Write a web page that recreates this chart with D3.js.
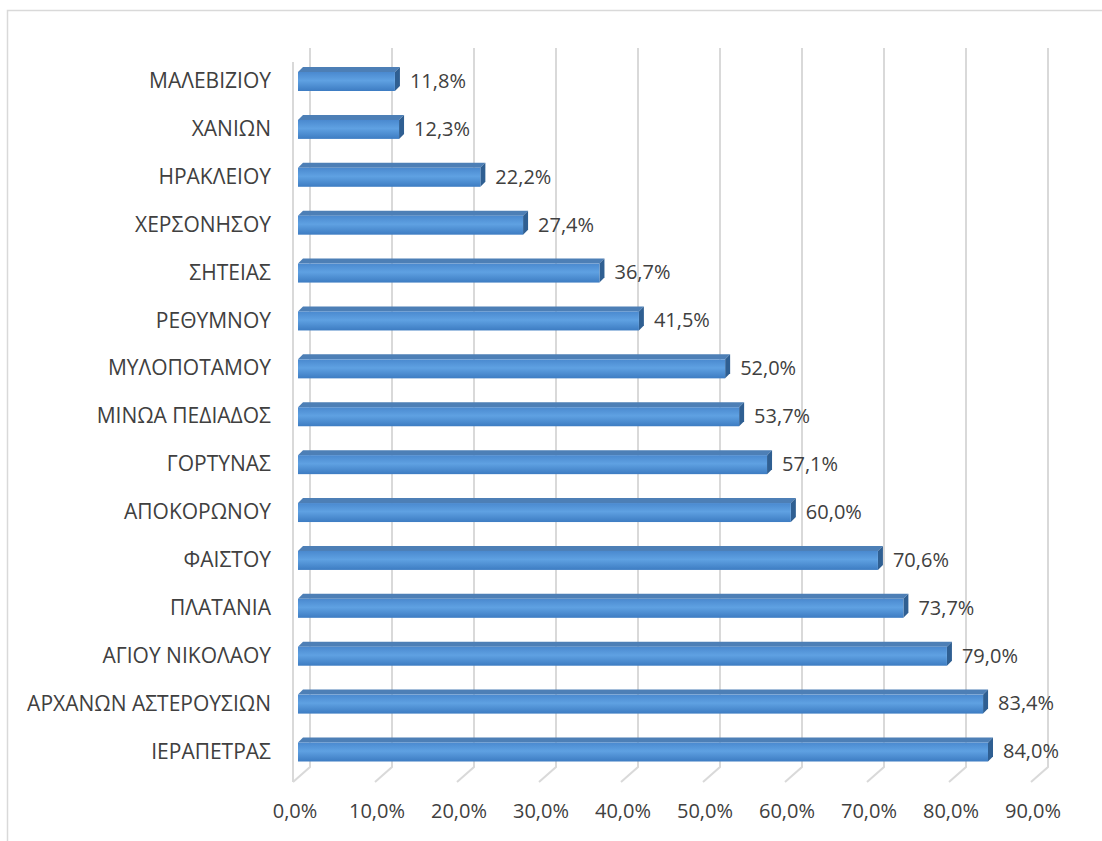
<!DOCTYPE html>
<html>
<head>
<meta charset="utf-8">
<script src="https://cdn.jsdelivr.net/npm/d3@7"></script>
<style>
  body { margin: 0; background: #fff; }
  svg text { font-family: "Open Sans", "Noto Sans", sans-serif; fill: #404040; }
</style>
</head>
<body>
<div id="chart"></div>
<script>
// municipalities, top to bottom
const categories = [
  "ΜΑΛΕΒΙΖΙΟΥ", "ΧΑΝΙΩΝ", "ΗΡΑΚΛΕΙΟΥ", "ΧΕΡΣΟΝΗΣΟΥ", "ΣΗΤΕΙΑΣ",
  "ΡΕΘΥΜΝΟΥ", "ΜΥΛΟΠΟΤΑΜΟΥ", "ΜΙΝΩΑ ΠΕΔΙΑΔΟΣ", "ΓΟΡΤΥΝΑΣ", "ΑΠΟΚΟΡΩΝΟΥ",
  "ΦΑΙΣΤΟΥ", "ΠΛΑΤΑΝΙΑ", "ΑΓΙΟΥ ΝΙΚΟΛΑΟΥ", "ΑΡΧΑΝΩΝ ΑΣΤΕΡΟΥΣΙΩΝ", "ΙΕΡΑΠΕΤΡΑΣ"
];
const values = [11.8, 12.3, 22.2, 27.4, 36.7, 41.5, 52.0, 53.7, 57.1, 60.0, 70.6, 73.7, 79.0, 83.4, 84.0];
const ticks = [0, 10, 20, 30, 40, 50, 60, 70, 80, 90];

const W = 1102, H = 841;
const depth = 17, rise = 15; // 3D wall offset
const fmt = v => v.toFixed(1).replace(".", ",") + "%";

const svg = d3.select("#chart").append("svg")
  .attr("width", W).attr("height", H);

// chart frame
svg.append("rect")
  .attr("x", 7.5).attr("y", 10.5)
  .attr("width", 1200).attr("height", 900)
  .attr("fill", "none").attr("stroke", "#d9d9d9").attr("stroke-width", 1.5);

// front scale (floor labels) and bar scale
const xFront = d3.scaleLinear().domain([0, 90]).range([293, 1031]);
const xBar = d3.scaleLinear().domain([0, 84]).range([298, 988]);
const y = d3.scalePoint().domain(categories).range([81.5, 752]);

const wallTop = 48, wallBottom = 767;

// gridlines on back wall + floor diagonals
const grid = svg.append("g").attr("stroke", "#d9d9d9").attr("stroke-width", 2).attr("fill", "none");
grid.selectAll("path.g").data(ticks).join("path")
  .attr("d", t => {
    const xb = xFront(t) + depth;
    return `M${xb},${wallTop}V${wallBottom}L${xFront(t)},${wallBottom + rise}`;
  });
// left wall front edge
grid.append("line")
  .attr("x1", xFront(0)).attr("x2", xFront(0))
  .attr("y1", wallTop + 14).attr("y2", wallBottom + rise);

// gradient for bar front
const defs = svg.append("defs");
const grad = defs.append("linearGradient").attr("id", "barGrad")
  .attr("x1", 0).attr("x2", 0).attr("y1", 0).attr("y2", 1);
grad.append("stop").attr("offset", "0%").attr("stop-color", "#4a89cf");
grad.append("stop").attr("offset", "45%").attr("stop-color", "#5fa1e2");
grad.append("stop").attr("offset", "100%").attr("stop-color", "#3d7cc2");

const bh = 19, bd = 5;
const bars = svg.append("g").selectAll("g").data(values).join("g");

bars.each(function(v, i) {
  const g = d3.select(this);
  const cy = y(categories[i]);
  const x0 = xBar(0), x1 = xBar(v);
  const top = cy - 9.5, bot = cy + 9.5;
  // top face
  g.append("path")
    .attr("d", `M${x0},${top}L${x0 + bd},${top - bd}L${x1 + bd},${top - bd}L${x1},${top}Z`)
    .attr("fill", "#4d7fb6");
  // side face
  g.append("path")
    .attr("d", `M${x1},${top}L${x1 + bd},${top - bd}L${x1 + bd},${bot - bd}L${x1},${bot}Z`)
    .attr("fill", "#2f5f92");
  // front face
  g.append("rect")
    .attr("x", x0).attr("y", top)
    .attr("width", x1 - x0).attr("height", bh)
    .attr("fill", "url(#barGrad)");
  // value label
  g.append("text")
    .attr("x", x1 + bd + 10).attr("y", cy + 1)
    .attr("dominant-baseline", "middle")
    .attr("font-size", 20)
    .text(fmt(v));
});

// category labels
svg.append("g").selectAll("text").data(categories).join("text")
  .attr("x", 271).attr("y", d => y(d) + 1)
  .attr("text-anchor", "end")
  .attr("dominant-baseline", "middle")
  .attr("font-size", 21)
  .text(d => d);

// x tick labels
svg.append("g").selectAll("text").data(ticks).join("text")
  .attr("x", t => xFront(t) + 2).attr("y", 813)
  .attr("text-anchor", "middle")
  .attr("dominant-baseline", "middle")
  .attr("font-size", 20)
  .text(t => fmt(t));
</script>
</body>
</html>
